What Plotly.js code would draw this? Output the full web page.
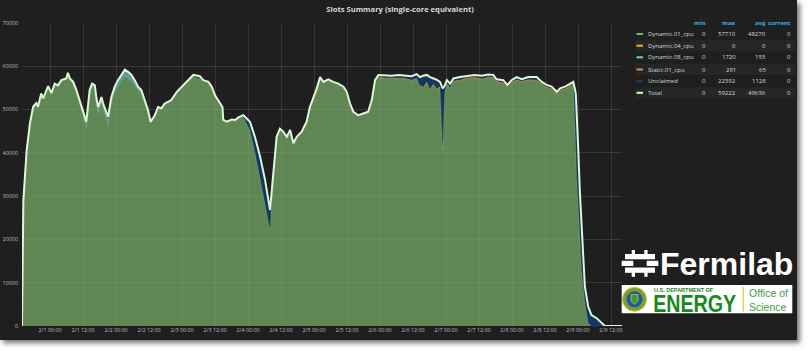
<!DOCTYPE html>
<html>
<head>
<meta charset="utf-8">
<script src="https://cdn.plot.ly/plotly-3.0.1.min.js"></script>
<style>
  html, body { margin:0; padding:0; background:#ffffff; width:810px; height:351px; overflow:hidden; }
  #panel { position:absolute; left:0; top:0; width:797px; height:340px; background:#1f1f20;
           box-shadow: 3px 3px 5px rgba(0,0,0,0.55); }
  #chart { position:absolute; left:0; top:0; width:810px; height:351px; }
</style>
</head>
<body>
<div id="panel"></div>
<div id="chart"></div>
<script>
// ---- data (hours since 2/1 00:00) ----
const hours = [
 -10.2,-9.7,-8.5,-7.3,-6.1,-5.0,-4.4,-3.2,-2.5,-0.7,
 0.5,1.7,2.9,4.1,5.9,6.5,7.2,8.4,9.6,10.8,
 12.0,13.2,14.4,15.3,16.3,16.8,17.5,18.7,19.3,20.5,
 21.1,22.3,23.5,24.7,25.9,27.2,28.4,29.6,30.8,32.0,
 33.2,34.4,35.6,36.6,38.1,39.3,40.5,41.7,42.9,44.1,
 46.1,48.5,50.9,52.1,54.5,55.7,57.6,58.8,60.0,61.8,
 62.7,63.0,64.3,66.1,67.3,68.5,70.3,72.7,74.5,76.4,
 78.2,80.0,81.2,82.4,83.6,84.8,86.1,87.3,88.5,89.7,
 91.5,93.3,94.5,95.7,97.0,98.2,99.4,101.2,103.0,104.8,
 106.7,107.9,109.1,110.3,112.1,113.9,115.7,117.0,118.2,119.4,
 121.8,124.2,126.7,129.1,131.5,133.3,134.5,135.7,137.0,138.2,
 139.4,140.6,141.8,142.8,143.5,144.3,145.5,146.7,149.1,151.5,
 154.5,157.0,159.4,161.2,162.4,164.8,166.3,167.9,169.7,171.5,
 173.9,177.0,178.8,180.6,182.4,184.3,185.5,187.3,189.1,190.3,
 191.2,191.5,192.1,192.7,193.3,193.9,194.5,195.7,196.9,198.8,
 200.6,201.8,208.0];

const totalSlots = [
 0,29000,40600,46900,50700,51500,50600,53700,52600,55400,
 53800,56000,55600,56800,57200,58500,57200,56400,54500,52200,
 49900,47200,54500,56000,55600,52900,50600,52900,51400,49100,
 48300,52900,55300,56800,58000,59200,58700,58000,56800,55300,
 54500,52200,49900,47200,48700,50600,50300,51400,51800,52200,
 54100,55700,57200,58000,57700,56800,56400,55300,53300,51400,
 50600,47600,47200,47700,47600,48200,48700,47200,43700,39100,
 33700,26800,36000,43700,45600,44900,43700,45300,42200,43700,
 44900,47200,50600,52600,54900,57500,56400,57000,56400,56000,
 55300,54100,51400,49500,48700,49100,49500,52200,56800,58000,
 57900,57800,58000,57800,57700,58200,57500,57800,58000,57500,
 57200,56900,56400,54900,55500,56800,56000,57200,57500,57800,
 58000,57800,58100,58000,57000,56800,55700,56800,57500,57000,
 57500,57500,56400,55700,55300,54100,54900,55300,56000,56400,
 53700,49900,40600,30600,22900,15200,9100,4500,2500,1800,
 600,0,0];

const dynamic01 = [
 0,29000,40600,46900,50700,51500,50600,53700,52600,55400,
 53800,56000,55600,56800,56900,58100,56800,55900,53700,51200,
 48600,45600,53300,55200,54800,51700,49100,51700,50100,47600,
 46080,51500,54100,55500,56600,57700,57200,56600,55600,54400,
 53800,51700,49600,47000,48600,50600,50300,51400,51800,52200,
 54100,55700,57200,57600,57200,56500,56400,55300,53300,51400,
 50600,47600,47200,47700,47600,48200,48200,45200,40200,34100,
 28500,22200,36000,43700,45600,44900,43700,45300,42200,43700,
 44900,47200,50600,52600,54900,57500,56400,57000,56400,56000,
 55300,54100,51200,49250,48500,48950,49300,51950,56600,57400,
 57150,57200,57109,57100,56750,57100,55450,55100,56300,54550,
 55800,54750,55200,40800,53750,56000,55000,56450,56700,57200,
 57250,57000,57400,57450,56400,56050,55200,56200,56750,56400,
 56800,56650,55800,55100,54750,53600,54350,54700,55400,55900,
 41200,34500,27600,20300,12900,9300,5600,700,0,0,
 0,0,0];

const dynamic08 = [
 0,0,0,0,0,0,0,0,0,0,
 0,0,0,0,300,400,400,500,800,1000,
 1300,1600,1200,800,800,1200,1500,1200,1300,1500,
 1720,1400,1200,1300,1400,1500,1500,1400,1200,900,
 700,500,300,200,100,0,0,0,0,0,
 0,0,0,0,0,0,0,0,0,0,
 0,0,0,0,0,0,0,0,0,0,
 0,0,0,0,0,0,0,0,0,0,
 0,0,0,0,0,0,0,0,0,0,
 0,0,0,0,0,0,0,0,0,0,
 0,0,0,0,0,0,0,0,0,0,
 0,0,0,0,0,0,0,0,0,0,
 0,0,0,0,0,0,0,0,0,0,
 0,0,0,0,0,0,0,0,0,0,
 0,0,0,0,0,0,0,0,0,0,
 0,0,0];

const static01 = [
 0,0,0,0,0,0,0,0,0,0,
 0,0,0,0,0,0,0,0,0,0,
 0,0,0,0,0,0,0,0,0,0,
 0,0,0,0,0,0,0,0,0,0,
 0,0,0,0,0,0,0,0,0,0,
 0,0,0,0,0,0,0,0,0,0,
 0,0,0,0,0,0,0,0,0,0,
 0,0,0,0,0,0,0,0,0,0,
 0,0,0,0,0,0,0,0,0,0,
 0,0,200,250,200,150,200,250,200,200,
 250,200,291,200,150,200,250,200,200,250,
 200,150,200,200,250,200,200,250,200,200,
 250,200,200,150,200,250,200,200,250,200,
 200,250,200,200,150,200,250,200,200,200,
 0,0,0,0,0,0,0,0,0,0,
 0,0,0];

const unclaimed = [
 0,0,0,0,0,0,0,0,0,0,
 0,0,0,0,0,0,0,0,0,0,
 0,0,0,0,0,0,0,0,0,0,
 500,0,0,0,0,0,0,0,0,0,
 0,0,0,0,0,0,0,0,0,0,
 0,0,0,400,500,300,0,0,0,0,
 0,0,0,0,0,0,500,2000,3500,5000,
 5200,4600,0,0,0,0,0,0,0,0,
 0,0,0,0,0,0,0,0,0,0,
 0,0,0,0,0,0,0,0,0,400,
 500,400,600,500,800,900,1800,2500,1500,2700,
 1200,2000,1000,13900,1500,600,800,500,600,400,
 500,600,500,400,400,500,300,400,500,400,
 500,600,400,400,400,300,300,400,400,300,
 12500,15400,13000,10300,10000,5900,3500,3800,2500,1800,
 600,0,0];

// legend table
const legendNames   = ['Dynamic.01_cpu','Dynamic.04_cpu','Dynamic.08_cpu','Static.01_cpu','Unclaimed','Total'];
const legendColors  = ['#7eb26d','#eab839','#6ed0e0','#ef843c','#0a437c','#e0f5d6'];
const legendMin     = [0,0,0,0,0,0];
const legendMax     = [57710,0,1720,291,22392,59222];
const legendAvg     = [48270,0,153,65,1128,49636];
const legendCurrent = [0,0,0,0,0,0];
const legendHeaders = ['min','max','avg','current'];

// ---- checks ----
[totalSlots,dynamic01,dynamic08,static01,unclaimed].forEach((a,i)=>{
  if (a.length !== hours.length) throw new Error('length mismatch in series '+i+': '+a.length+' vs '+hours.length);
});

const BASE = Date.UTC(2017,1,1,0,0,0);
function toDate(h){ return new Date(BASE + h*3600000).toISOString().slice(0,19).replace('T',' '); }
const times = hours.map(toDate);

function rgba(hex,a){
  const n=parseInt(hex.slice(1),16);
  return 'rgba('+((n>>16)&255)+','+((n>>8)&255)+','+(n&255)+','+a+')';
}

function stackTrace(y, color, name, lw){
  return { x: times, y: y, name: name, type:'scatter', mode:'lines', stackgroup:'one',
    line:{color:color, width:lw}, fillcolor: rgba(color,0.7), hoverinfo:'skip' };
}

const traces = [
  stackTrace(dynamic01, legendColors[0], legendNames[0], 0.6),
  stackTrace(dynamic08, legendColors[2], legendNames[2], 0),
  stackTrace(static01,  legendColors[3], legendNames[3], 0),
  stackTrace(unclaimed, legendColors[4], legendNames[4], 0.8),
  { x: times, y: totalSlots, name: legendNames[5], type:'scatter', mode:'lines',
    line:{color: legendColors[5], width:2}, hoverinfo:'skip' }
];

// ---- layout helpers (pixel -> paper) ----
const L=22, R=188, T=23, B=25, PW=810-L-R, PH=351-T-B;
const PX = x => (x-L)/PW;
const PY = y => (351-B-y)/PH;

const FONT = 'Open Sans, Liberation Sans, DejaVu Sans, sans-serif';
const SANS = 'Liberation Sans, Arial, sans-serif';
const annotations = [];
const shapes = [];

function ann(text, x, y, o){
  annotations.push(Object.assign({text:text, x:PX(x), y:PY(y), xref:'paper', yref:'paper',
    showarrow:false, xanchor:'left', yanchor:'middle', borderpad:0,
    font:{family:FONT, size:6, color:'#d8d9da'}}, o||{}));
}
function rect(x0,y0,x1,y1,fill,o){
  shapes.push(Object.assign({type:'rect', xref:'paper', yref:'paper', x0:PX(x0), x1:PX(x1), y0:PY(y0), y1:PY(y1),
    fillcolor:fill, line:{width:0}, layer:'above'}, o||{}));
}

// legend
const rowY = [34, 45.7, 57.3, 69.5, 81, 92.8];
const colRight = [707.3, 736.7, 766.7, 792.3];
[1,3,5].forEach(i => rect(635, rowY[i]-5.5, 795, rowY[i]+5.5, 'rgba(255,255,255,0.035)', {layer:'below'}));
legendHeaders.forEach((h,j)=> ann(h, colRight[j], 23, {xanchor:'right', font:{family:FONT,size:6,color:'#33b5e5',weight:'bold'}}));
legendNames.forEach((n,i)=>{
  shapes.push({type:'line', xref:'paper', yref:'paper', x0:PX(636.5), x1:PX(643), y0:PY(rowY[i]), y1:PY(rowY[i]),
    line:{color:legendColors[i], width:2}});
  ann(n, 646.5, rowY[i]);
  [legendMin[i],legendMax[i],legendAvg[i],legendCurrent[i]].forEach((v,j)=>
    ann(String(v), colRight[j], rowY[i], {xanchor:'right'}));
});

// Fermilab logo (symbol + text)
const W='#ffffff';
rect(631.7,250,635,254.5,W); rect(644.3,250,647.6,254.5,W);
rect(625,254,655,259.3,W);
rect(621.7,260.8,633.3,266,W); rect(646.7,260.8,658.3,266,W);
rect(625,267.5,655,272.8,W);
rect(631.7,272.3,635,276.8,W); rect(644.3,272.3,647.6,276.8,W);
ann('Fermilab', 659, 263.5, {font:{family:SANS, size:32, color:'#ffffff', weight:'bold'}});

// DOE logo box
rect(621.7,285,792.3,313.3,'#ffffff');
shapes.push({type:'circle', xref:'paper', yref:'paper', x0:PX(622.5), x1:PX(646.5), y0:PY(287.3), y1:PY(311.3),
  fillcolor:'#7f9f2a', line:{color:'#c9c25a', width:1}, layer:'above'});
shapes.push({type:'circle', xref:'paper', yref:'paper', x0:PX(626.5), x1:PX(642.5), y0:PY(291.3), y1:PY(307.3),
  fillcolor:'#1f56a8', line:{width:0}, layer:'above'});
shapes.push({type:'path', xref:'paper', yref:'paper', layer:'above', fillcolor:'#3f9a2a', line:{color:'#e6d85a',width:0.6},
  path:'M '+PX(631)+' '+PY(294.5)+' L '+PX(638)+' '+PY(294.5)+' L '+PX(638)+' '+PY(301)+' L '+PX(634.5)+' '+PY(304.5)+' L '+PX(631)+' '+PY(301)+' Z'});
shapes.push({type:'line', xref:'paper', yref:'paper', x0:PX(743.3), x1:PX(743.3), y0:PY(287), y1:PY(311.5),
  line:{color:'#e3cf63', width:1.5}, layer:'above'});
ann('U.S. DEPARTMENT OF', 652.5, 289.6, {font:{family:SANS, size:5.5, color:'#1f7f22', weight:'bold'}});
ann('ENERGY', 694, 303.4, {xanchor:'center', height:19, font:{family:SANS, size:24, color:'#188a1c', weight:'bold'}});
ann('Office of<br>Science', 747.5, 299.5, {align:'left', font:{family:SANS, size:10.5, color:'#3f9a3c'}});

const layout = {
  width:810, height:351,
  margin:{l:L, r:R, t:T, b:B, pad:0},
  paper_bgcolor:'rgba(0,0,0,0)', plot_bgcolor:'rgba(0,0,0,0)',
  showlegend:false,
  title:{text:'Slots Summary (single-core equivalent)', x:400/810, xref:'container', xanchor:'center',
         y:1-9/351, yref:'container', yanchor:'middle', font:{family:FONT, size:7.6, color:'#d8d9da', weight:'bold'}},
  xaxis:{type:'date', range:[toDate(-10.2), toDate(208)], tick0:'2017-02-01 00:00:00', dtick:43200000,
         tickformat:'%-m/%-d %H:%M', showgrid:true, gridcolor:'rgba(255,255,255,0.11)', gridwidth:1,
         zeroline:false, showline:false, ticks:'', tickfont:{family:FONT, size:5.4, color:'#bcbcbc'}, fixedrange:true},
  yaxis:{range:[0,70000], dtick:10000, tick0:0, tickformat:'d', showgrid:true, gridcolor:'rgba(255,255,255,0.11)',
         gridwidth:1, zeroline:false, showline:false, ticks:'', ticklabelstandoff:3,
         tickfont:{family:FONT, size:5.4, color:'#bcbcbc'}, fixedrange:true},
  annotations:annotations, shapes:shapes
};

Plotly.newPlot('chart', traces, layout, {staticPlot:true, displayModeBar:false}).then(gd => {
  // squeeze the wide "ENERGY" wordmark to the width of the condensed logo type
  gd.querySelectorAll('.annotation-text').forEach(t => {
    if (t.textContent === 'ENERGY') {
      t.setAttribute('textLength', '83');
      t.setAttribute('lengthAdjust', 'spacingAndGlyphs');
    }
  });
});
</script>
</body>
</html>
